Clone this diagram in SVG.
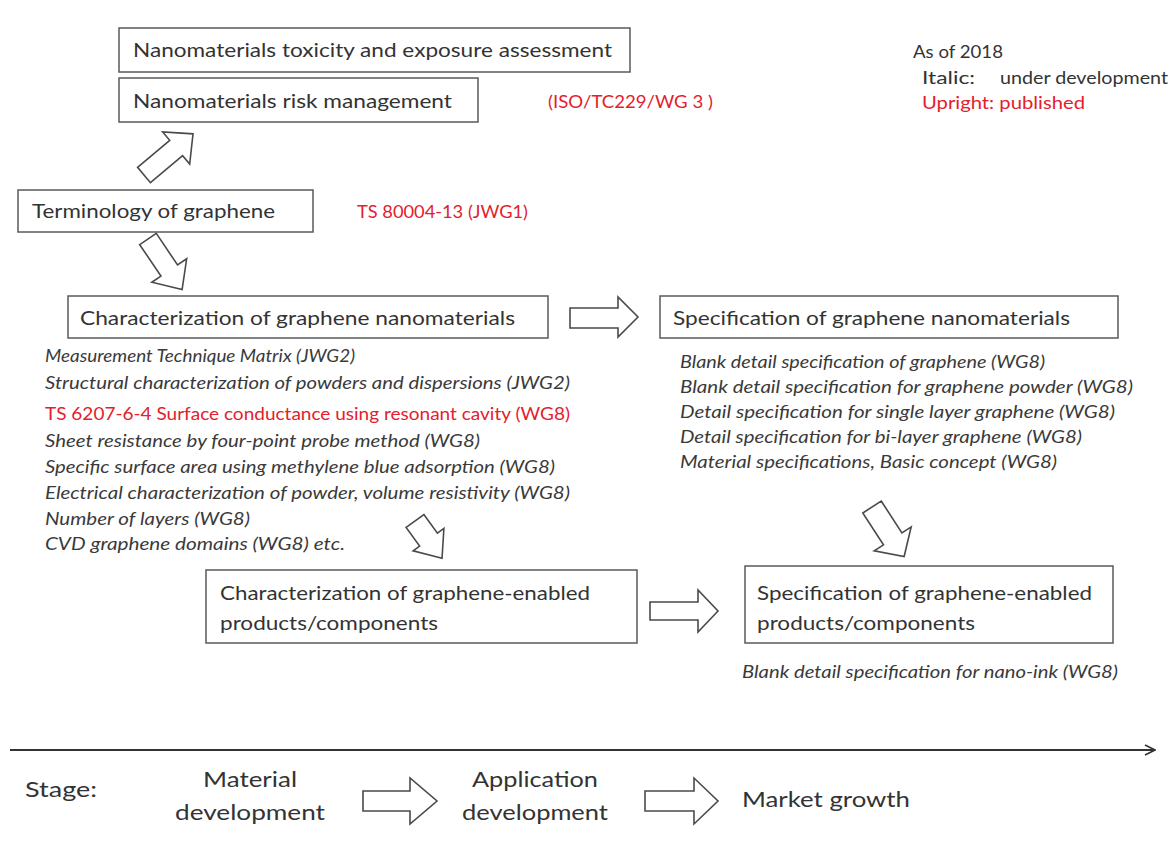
<svg xmlns="http://www.w3.org/2000/svg" width="1170" height="848" viewBox="0 0 1170 848">
<style>
.box{fill:#fff;stroke:#5a5a5a;stroke-width:1.5}
.blk{fill:#fff;stroke:#4a4a4a;stroke-width:1.6;stroke-linejoin:miter}
.t{font-family:Lato,"Open Sans","Liberation Sans",sans-serif;font-size:20px;fill:#333}
.r{font-family:Lato,"Open Sans","Liberation Sans",sans-serif;font-size:17px;fill:#e4202c}
.i{font-family:Lato,"Open Sans","Liberation Sans",sans-serif;font-size:16.5px;font-style:italic;fill:#3a3a3a}
.s{font-family:Lato,"Open Sans","Liberation Sans",sans-serif;font-size:22px;fill:#333}
.lg{font-family:Lato,"Open Sans","Liberation Sans",sans-serif;font-size:17px;fill:#333}
</style>
<defs>
<marker id="open" viewBox="0 0 12 12" refX="11" refY="6" markerWidth="12" markerHeight="12" markerUnits="userSpaceOnUse" orient="auto">
<path d="M1,1 L11,6 L1,11" fill="none" stroke="#333" stroke-width="1.6"/>
</marker>
</defs>
<rect width="1170" height="848" fill="#fff"/>

<g id="toxicity">
<rect class="box" x="119" y="28" width="511" height="44"/>
<text class="t" x="133" y="57" textLength="479" lengthAdjust="spacingAndGlyphs">Nanomaterials toxicity and exposure assessment</text>
</g>
<g id="risk">
<rect class="box" x="119" y="78" width="359" height="44"/>
<text class="t" x="133" y="108" textLength="319" lengthAdjust="spacingAndGlyphs">Nanomaterials risk management</text>
</g>
<g id="wg3"><text class="r" x="548" y="108" textLength="165" lengthAdjust="spacingAndGlyphs">(ISO/TC229/WG 3 )</text></g>

<g id="legend">
<text class="lg" x="913" y="58" textLength="90" lengthAdjust="spacingAndGlyphs">As of 2018</text>
<text class="lg" x="922" y="84" textLength="53" lengthAdjust="spacingAndGlyphs">Italic:</text>
<text class="lg" x="1000" y="84" textLength="168" lengthAdjust="spacingAndGlyphs">under development</text>
<text class="lg" x="922" y="109" textLength="163" lengthAdjust="spacingAndGlyphs" style="fill:#e4202c">Upright: published</text>
</g>

<g id="terminology">
<rect class="box" x="18" y="190" width="295" height="42"/>
<text class="t" x="32" y="218" textLength="243" lengthAdjust="spacingAndGlyphs">Terminology of graphene</text>
</g>
<g id="jwg1"><text class="r" x="357" y="218" textLength="171" lengthAdjust="spacingAndGlyphs">TS 80004-13 (JWG1)</text></g>

<g id="char-nano">
<rect class="box" x="68" y="296" width="480" height="42"/>
<text class="t" x="80" y="325" textLength="435" lengthAdjust="spacingAndGlyphs">Characterization of graphene nanomaterials</text>
</g>
<g id="spec-nano">
<rect class="box" x="660" y="296" width="458" height="42"/>
<text class="t" x="673" y="325" textLength="397" lengthAdjust="spacingAndGlyphs">Specification of graphene nanomaterials</text>
</g>

<g id="char-list">
<text class="i" x="45" y="362" textLength="310" lengthAdjust="spacingAndGlyphs">Measurement Technique Matrix (JWG2)</text>
<text class="i" x="45" y="389" textLength="525" lengthAdjust="spacingAndGlyphs">Structural characterization of powders and dispersions (JWG2)</text>
<text class="r" x="45" y="420" textLength="525" lengthAdjust="spacingAndGlyphs">TS 6207-6-4  Surface conductance using resonant cavity (WG8)</text>
<text class="i" x="45" y="447" textLength="435" lengthAdjust="spacingAndGlyphs">Sheet resistance by four-point probe method (WG8)</text>
<text class="i" x="45" y="473" textLength="510" lengthAdjust="spacingAndGlyphs">Specific surface area using methylene blue adsorption (WG8)</text>
<text class="i" x="45" y="499" textLength="525" lengthAdjust="spacingAndGlyphs">Electrical characterization of powder, volume resistivity (WG8)</text>
<text class="i" x="45" y="525" textLength="205" lengthAdjust="spacingAndGlyphs">Number of layers (WG8)</text>
<text class="i" x="45" y="550" textLength="300" lengthAdjust="spacingAndGlyphs">CVD graphene domains (WG8)  etc.</text>
</g>

<g id="spec-list">
<text class="i" x="680" y="368" textLength="365" lengthAdjust="spacingAndGlyphs">Blank detail specification of graphene (WG8)</text>
<text class="i" x="680" y="393" textLength="453" lengthAdjust="spacingAndGlyphs">Blank detail specification for graphene powder (WG8)</text>
<text class="i" x="680" y="418" textLength="435" lengthAdjust="spacingAndGlyphs">Detail specification for single layer graphene (WG8)</text>
<text class="i" x="680" y="443" textLength="402" lengthAdjust="spacingAndGlyphs">Detail specification for bi-layer graphene (WG8)</text>
<text class="i" x="680" y="468" textLength="377" lengthAdjust="spacingAndGlyphs">Material specifications, Basic concept (WG8)</text>
</g>

<g id="char-products">
<rect class="box" x="206" y="570" width="431" height="73"/>
<text class="t" x="220" y="600" textLength="370" lengthAdjust="spacingAndGlyphs">Characterization of graphene-enabled</text>
<text class="t" x="220" y="630" textLength="218" lengthAdjust="spacingAndGlyphs">products/components</text>
</g>
<g id="spec-products">
<rect class="box" x="745" y="566" width="368" height="77"/>
<text class="t" x="757" y="600" textLength="335" lengthAdjust="spacingAndGlyphs">Specification of graphene-enabled</text>
<text class="t" x="757" y="630" textLength="218" lengthAdjust="spacingAndGlyphs">products/components</text>
</g>
<g id="nano-ink"><text class="i" x="742" y="678" textLength="376" lengthAdjust="spacingAndGlyphs">Blank detail specification for nano-ink (WG8)</text></g>

<g id="connectors">
<path class="blk" transform="translate(144,175) rotate(-40)" d="M0,-10 L42,-10 L42,-21 L64,0 L42,21 L42,10 L0,10 Z"/>
<path class="blk" transform="translate(148,239) rotate(56)" d="M0,-10 L38,-10 L38,-21 L61,0 L38,21 L38,10 L0,10 Z"/>
<path class="blk" d="M570,308 L618,308 L618,297 L638,317 L618,337 L618,328 L570,328 Z"/>
<path class="blk" transform="translate(415,521) rotate(54)" d="M0,-11 L23,-11 L23,-19 L46,0 L23,19 L23,11 L0,11 Z"/>
<path class="blk" transform="translate(872,507) rotate(57)" d="M0,-11 L38,-11 L38,-22 L59,0 L38,22 L38,11 L0,11 Z"/>
<path class="blk" d="M650,602 L698,602 L698,590 L718,611 L698,632 L698,620 L650,620 Z"/>
<line x1="10" y1="750" x2="1155" y2="750" stroke="#333" stroke-width="2" marker-end="url(#open)"/>
<path class="blk" d="M363,791 L410,791 L410,778 L437,801 L410,824 L410,811 L363,811 Z"/>
<path class="blk" d="M645,791 L694,791 L694,778 L718,801 L694,824 L694,811 L645,811 Z"/>
</g>

<g id="stages">
<text class="s" x="25" y="797" textLength="72" lengthAdjust="spacingAndGlyphs">Stage:</text>
<text class="s" x="203" y="787" textLength="94" lengthAdjust="spacingAndGlyphs">Material</text>
<text class="s" x="175" y="820" textLength="150" lengthAdjust="spacingAndGlyphs">development</text>
<text class="s" x="472" y="787" textLength="126" lengthAdjust="spacingAndGlyphs">Application</text>
<text class="s" x="462" y="820" textLength="146" lengthAdjust="spacingAndGlyphs">development</text>
<text class="s" x="742" y="807" textLength="168" lengthAdjust="spacingAndGlyphs">Market growth</text>
</g>
</svg>
